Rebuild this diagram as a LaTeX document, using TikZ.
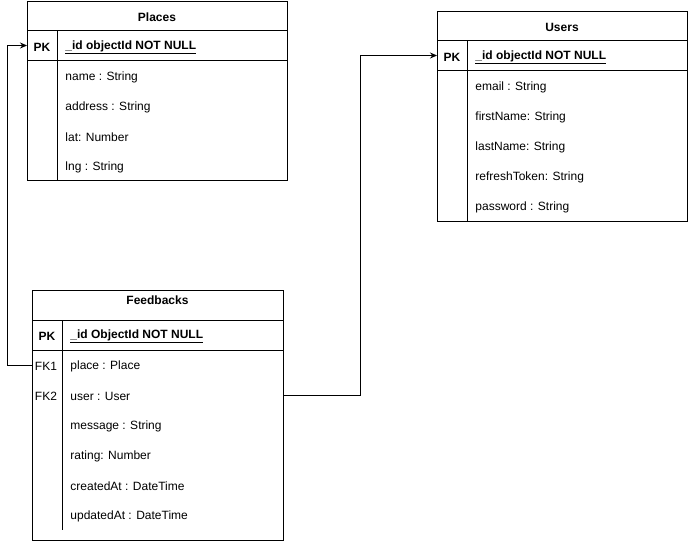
\documentclass[tikz,border=0pt]{standalone}
\usepackage{fontspec}
\setmainfont{Liberation Sans}
\usetikzlibrary{arrows.meta}
\begin{document}
\begin{tikzpicture}[x=1pt,y=-1pt,line width=0.9pt,
  tbl/.style={draw,fill=white,inner sep=0pt,anchor=north west},
  ttl/.style={font=\fontsize{12}{14}\selectfont\bfseries,inner sep=0pt,yshift=-1.5pt},
  key/.style={font=\fontsize{12}{14}\selectfont\bfseries,inner sep=0pt,yshift=-1.5pt},
  fk/.style={font=\fontsize{12}{14}\selectfont,inner sep=0pt,yshift=-1.5pt},
  fld/.style={font=\fontsize{12}{14}\selectfont,inner sep=0pt,anchor=west,yshift=-1.5pt},
  pkf/.style={font=\fontsize{12}{14}\selectfont\bfseries,inner sep=0pt,anchor=west,yshift=-1.5pt},
  conn/.style={draw,line width=0.9pt,-{Stealth[length=7pt,width=6pt]}}]
\useasboundingbox (0,0) rectangle (688,541);

% ---------- Places ----------
\node[tbl,minimum width=260pt,minimum height=179.5pt] (ptab) at (27,0.5) {};
\draw (27,30.5) -- (287,30.5);
\draw (27,60.5) -- (287,60.5);
\draw (57,30.5) -- (57,180);
\node[ttl] (ptitle) at (157,15.5) {Places};
\node[key] (ppk) at (42,45.5) {PK};
\node[pkf] (pid) at (65,45.5) {\underline{\_id objectId NOT NULL}};
\node[fld] (pname) at (65,75.5) {name : String};
\node[fld] (paddr) at (65,105.5) {address : String};
\node[fld] (plat) at (65,135.5) {lat: Number};
\node[fld] (plng) at (65,165.5) {lng : String};

% ---------- Users ----------
\node[tbl,minimum width=250pt,minimum height=210pt] (utab) at (437,10.5) {};
\draw (437,40.5) -- (687,40.5);
\draw (437,70.5) -- (687,70.5);
\draw (467,40.5) -- (467,220.5);
\node[ttl] (utitle) at (562,25.5) {Users};
\node[key] (upk) at (452,55.5) {PK};
\node[pkf] (uid) at (475,55.5) {\underline{\_id objectId NOT NULL}};
\node[fld] (uemail) at (475,85.5) {email : String};
\node[fld] (ufirst) at (475,115.5) {firstName: String};
\node[fld] (ulast) at (475,145.5) {lastName: String};
\node[fld] (urefresh) at (475,175.5) {refreshToken: String};
\node[fld] (upass) at (475,205.5) {password : String};

% ---------- Feedbacks ----------
\node[tbl,minimum width=251pt,minimum height=250pt] (ftab) at (32,290) {};
\draw (32,320) -- (283,320);
\draw (32,350) -- (283,350);
\draw (62,320) -- (62,530);
\node[ttl] (ftitle) at (157.5,298.5) {Feedbacks};
\node[key] (fpk) at (47,335) {PK};
\node[pkf] (fid) at (70,335) {\underline{\_id ObjectId NOT NULL}};
\node[fk] (ffk1) at (46,365) {FK1};
\node[fk] (ffk2) at (46,395) {FK2};
\node[fld] (fplace) at (70,365) {place : Place};
\node[fld] (fuser) at (70,395) {user : User};
\node[fld] (fmsg) at (70,425) {message : String};
\node[fld] (frating) at (70,455) {rating: Number};
\node[fld] (fcreated) at (70,485) {createdAt : DateTime};
\node[fld] (fupdated) at (70,515) {updatedAt : DateTime};

% ---------- Connectors ----------
\coordinate (b1) at (7.5,365);
\coordinate (b2) at (360,395);
\coordinate (t1) at (27,45.5);
\coordinate (t2) at (437,55.5);
\draw[conn] (ftab.west |- b1) -- (b1) |- (ptab.west |- t1);
\draw[conn] (ftab.east |- b2) -- (b2) |- (utab.west |- t2);
\end{tikzpicture}
\end{document}
